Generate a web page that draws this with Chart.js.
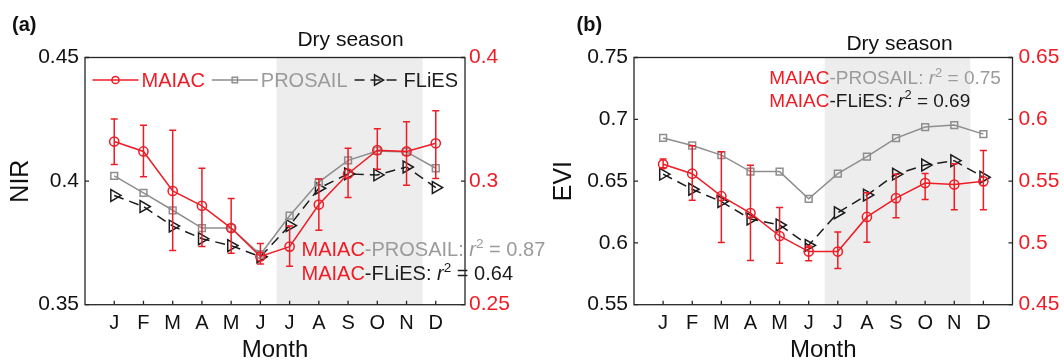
<!DOCTYPE html>
<html>
<head>
<meta charset="utf-8">
<script src="https://cdn.jsdelivr.net/npm/chart.js@4.4.1/dist/chart.umd.min.js"></script>
<style>
  html, body { margin: 0; padding: 0; background: #fff; }
  #wrap { position: relative; width: 1064px; height: 364px; overflow: hidden; }
  canvas { position: absolute; top: 0; }
  #chartA { left: 0; }
  #chartB { left: 530px; }
</style>
</head>
<body>
<div id="wrap">
  <canvas id="chartA" width="560" height="364"></canvas>
  <canvas id="chartB" width="534" height="364"></canvas>
</div>
<script>
// months on the x axis (plotted at 1..12, axis runs 0..13)
const months = ["J", "F", "M", "A", "M", "J", "J", "A", "S", "O", "N", "D"];
const drySeason = [6.55, 11.55]; // shaded band, in month units

// (a) NIR
const nirMaiac = [0.416, 0.412, 0.396, 0.390, 0.381, 0.3695, 0.3735, 0.3905, 0.403, 0.4125, 0.412, 0.4153];
const nirMaiacHigh = [0.4251, 0.4226, 0.4206, 0.4052, 0.393, 0.3748, 0.3818, 0.4008, 0.4133, 0.4212, 0.424, 0.4285];
const nirMaiacLow = [0.4067, 0.4018, 0.3719, 0.3735, 0.3708, 0.3665, 0.3656, 0.3801, 0.3934, 0.4048, 0.3983, 0.4011];
const nirProsail = [0.4021, 0.3952, 0.3882, 0.381, 0.381, 0.3703, 0.386, 0.3996, 0.4084, 0.4122, 0.4118, 0.4052];
const nirFlies = [0.3942, 0.3897, 0.3818, 0.3767, 0.3739, 0.3694, 0.382, 0.3971, 0.4029, 0.4025, 0.4057, 0.3974];
const nirTicks = [0.35, 0.4, 0.45];
const nirRightLabels = ["0.25", "0.3", "0.4"];
const nirR2 = ["0.87", "0.64"];

// (b) EVI
const eviMaiac = [0.6636, 0.656, 0.6378, 0.6241, 0.6056, 0.593, 0.593, 0.621, 0.6362, 0.6484, 0.6472, 0.6498];
const eviMaiacHigh = [0.6679, 0.6785, 0.6737, 0.6628, 0.6287, 0.5975, 0.6088, 0.6405, 0.6555, 0.6562, 0.664, 0.6747];
const eviMaiacLow = [0.6608, 0.6345, 0.6004, 0.5857, 0.5836, 0.5855, 0.5793, 0.6005, 0.6204, 0.6352, 0.6268, 0.6268];
const eviProsail = [0.6849, 0.6788, 0.671, 0.6577, 0.6577, 0.6357, 0.656, 0.6698, 0.6848, 0.6937, 0.6953, 0.688];
const eviFlies = [0.6556, 0.6434, 0.6334, 0.6193, 0.6145, 0.598, 0.6244, 0.6387, 0.6556, 0.663, 0.6665, 0.6531];
const eviTicks = [0.55, 0.6, 0.65, 0.7, 0.75];
const eviRightLabels = ["0.45", "0.5", "0.55", "0.6", "0.65"];
const eviR2 = ["0.75", "0.69"];

const FONT = "'Liberation Sans', Arial, Helvetica, sans-serif";
const RED = "#ee1c25";
const GRAY = "#8e8e8e";
const GRAYTEXT = "#9b9b9b";
const DARK = "#1c1c1c";

Chart.defaults.font.family = FONT;
Chart.defaults.color = "#111";

function toXY(vals) {
  return vals.map((v, i) => ({ x: i + 1, y: v }));
}

function seriesSets(maiac, prosail, flies) {
  return [
    {
      label: "MAIAC", data: toXY(maiac), borderColor: RED, borderWidth: 1.5,
      pointStyle: "circle", pointRadius: 4.6, pointBorderWidth: 1.5,
      pointBorderColor: RED, pointBackgroundColor: "rgba(0,0,0,0)", tension: 0
    },
    {
      label: "PROSAIL", data: toXY(prosail), borderColor: GRAY, borderWidth: 1.5,
      pointStyle: "rect", pointRadius: 4.8, pointBorderWidth: 1.5,
      pointBorderColor: GRAY, pointBackgroundColor: "rgba(0,0,0,0)", tension: 0
    },
    {
      label: "FLiES", data: toXY(flies), borderColor: DARK, borderWidth: 1.5, borderDash: [10, 6],
      pointStyle: "triangle", pointRotation: 90, pointRadius: 6.8, pointBorderWidth: 1.5,
      pointBorderColor: DARK, pointBackgroundColor: "rgba(0,0,0,0)", tension: 0
    }
  ];
}

// text made of pieces with their own colour / style
function drawRuns(ctx, runs, x, y, size) {
  ctx.textBaseline = "alphabetic";
  ctx.textAlign = "left";
  runs.forEach((r) => {
    const fs = r.sup ? size * 0.68 : size;
    ctx.font = (r.italic ? "italic " : "") + fs + "px " + FONT;
    ctx.fillStyle = r.color;
    ctx.fillText(r.text, x, r.sup ? y - size * 0.38 : y);
    x += ctx.measureText(r.text).width;
  });
}

function r2Runs(name, color, value) {
  return [
    { text: "MAIAC", color: RED },
    { text: "-" + name + ": ", color: color },
    { text: "r", color: color, italic: true },
    { text: "2", color: color, sup: true },
    { text: " = " + value, color: color }
  ];
}

function panelPlugin(cfg) {
  return {
    id: "panel" + cfg.tag,
    beforeDatasetsDraw(chart) {
      const { ctx, chartArea } = chart;
      const xs = chart.scales.x;
      ctx.save();
      ctx.fillStyle = "#ededed";
      const x0 = xs.getPixelForValue(drySeason[0]);
      const x1 = xs.getPixelForValue(drySeason[1]);
      ctx.fillRect(x0, chartArea.top, x1 - x0, chartArea.bottom - chartArea.top);
      ctx.restore();
    },
    afterDatasetsDraw(chart) {
      const { ctx } = chart;
      const xs = chart.scales.x;
      const ys = chart.scales.y;
      ctx.save();
      // error bars of MAIAC
      ctx.strokeStyle = RED;
      ctx.lineWidth = 1.5;
      cfg.high.forEach((h, i) => {
        const x = xs.getPixelForValue(i + 1);
        const yh = ys.getPixelForValue(h);
        const yl = ys.getPixelForValue(cfg.low[i]);
        ctx.beginPath();
        ctx.moveTo(x, yh); ctx.lineTo(x, yl);
        ctx.moveTo(x - 3.5, yh); ctx.lineTo(x + 3.5, yh);
        ctx.moveTo(x - 3.5, yl); ctx.lineTo(x + 3.5, yl);
        ctx.stroke();
      });

      // r2 notes
      drawRuns(ctx, r2Runs("PROSAIL", GRAYTEXT, cfg.r2[0]), cfg.noteX, cfg.noteY[0], cfg.noteSize);
      drawRuns(ctx, r2Runs("FLiES", DARK, cfg.r2[1]), cfg.noteX, cfg.noteY[1], cfg.noteSize);

      // legend inside the box (panel a only)
      if (cfg.legend) {
        let x = cfg.legend.x;
        const y = cfg.legend.y;
        const sizes = [3.6, 3.8, 6];
        chart.data.datasets.forEach((ds, k) => {
          ctx.strokeStyle = ds.borderColor;
          ctx.lineWidth = 1.5;
          ctx.setLineDash(ds.borderDash || []);
          ctx.beginPath();
          ctx.moveTo(x, y); ctx.lineTo(x + 46, y);
          ctx.stroke();
          ctx.setLineDash([]);
          ctx.fillStyle = "rgba(0,0,0,0)";
          Chart.helpers.drawPoint(ctx, {
            pointStyle: ds.pointStyle, rotation: ds.pointRotation || 0,
            radius: sizes[k], borderWidth: 1.5
          }, x + 23, y);
          ctx.font = "20px " + FONT;
          ctx.fillStyle = k === 1 ? GRAYTEXT : (k === 0 ? RED : DARK);
          ctx.textBaseline = "middle";
          ctx.textAlign = "left";
          const tx = x + 49;
          ctx.fillText(ds.label, tx, y + 1);
          x = tx + ctx.measureText(ds.label).width + 7;
        });
      }
      ctx.restore();
    },
    afterDraw(chart) {
      const { ctx, chartArea } = chart;
      const xs = chart.scales.x;
      const ys = chart.scales.y;
      ctx.save();
      // box and inward ticks
      ctx.strokeStyle = "#262626";
      ctx.lineWidth = 1.3;
      ctx.strokeRect(chartArea.left, chartArea.top, chartArea.right - chartArea.left, chartArea.bottom - chartArea.top);
      ctx.beginPath();
      ys.ticks.forEach((t) => {
        const y = ys.getPixelForValue(t.value);
        ctx.moveTo(chartArea.left, y); ctx.lineTo(chartArea.left + 4, y);
        ctx.moveTo(chartArea.right, y); ctx.lineTo(chartArea.right - 4, y);
      });
      xs.ticks.forEach((t) => {
        const x = xs.getPixelForValue(t.value);
        ctx.moveTo(x, chartArea.bottom); ctx.lineTo(x, chartArea.bottom - 4);
      });
      ctx.stroke();

      // panel letter and dry season label
      ctx.fillStyle = "#111";
      ctx.textAlign = "left";
      ctx.textBaseline = "alphabetic";
      ctx.font = "bold 20px " + FONT;
      ctx.fillText(cfg.letter, cfg.letterX, 31);
      ctx.font = "21px " + FONT;
      ctx.textAlign = "center";
      const mid = (xs.getPixelForValue(drySeason[0]) + xs.getPixelForValue(drySeason[1])) / 2;
      ctx.fillText("Dry season", mid + cfg.dryShift, cfg.dryY);
      ctx.restore();
    }
  };
}

function makePanel(canvasId, cfg) {
  const ctx = document.getElementById(canvasId).getContext("2d");
  return new Chart(ctx, {
    type: "line",
    data: { datasets: seriesSets(cfg.maiac, cfg.prosail, cfg.flies) },
    options: {
      responsive: false,
      animation: false,
      devicePixelRatio: 1,
      layout: { padding: { top: 57.5, left: 0, right: 0, bottom: 0 } },
      plugins: { legend: { display: false }, tooltip: { enabled: false } },
      scales: {
        x: {
          type: "linear", min: 0, max: 13,
          afterBuildTicks: (s) => { s.ticks = months.map((m, i) => ({ value: i + 1 })); },
          afterFit: (s) => { s.height = 59.3; },
          grid: { display: false, drawTicks: false },
          border: { display: false },
          ticks: {
            autoSkip: false, maxRotation: 0, padding: 7, color: "#111",
            font: { size: 20 },
            callback: (v, i) => months[i]
          },
          title: {
            display: true, text: "Month", color: "#111",
            font: { size: 24, lineHeight: 1 }, padding: { top: 0, bottom: 1.5 }
          }
        },
        y: {
          type: "linear", position: "left", min: cfg.ticks[0], max: cfg.ticks[cfg.ticks.length - 1],
          afterBuildTicks: (s) => { s.ticks = cfg.ticks.map((v) => ({ value: v })); },
          afterFit: (s) => { s.width = cfg.leftW; },
          grid: { display: false, drawTicks: false },
          border: { display: false },
          ticks: { padding: 6, color: "#111", font: { size: 21 }, callback: (v) => String(v) },
          title: {
            display: true, text: cfg.yTitle, color: "#111",
            font: { size: 25, lineHeight: 1 }, padding: { top: cfg.yTitlePad, bottom: 0 }
          }
        },
        y1: {
          type: "linear", position: "right", min: cfg.ticks[0], max: cfg.ticks[cfg.ticks.length - 1],
          afterBuildTicks: (s) => { s.ticks = cfg.ticks.map((v) => ({ value: v })); },
          afterFit: (s) => { s.width = cfg.rightW; },
          grid: { display: false, drawTicks: false },
          border: { display: false },
          ticks: { padding: cfg.rightPad, color: RED, font: { size: 21 }, callback: (v, i) => cfg.rightLabels[i] }
        }
      }
    },
    plugins: [panelPlugin(cfg)]
  });
}

makePanel("chartA", {
  tag: "A", letter: "(a)", letterX: 12, dryShift: 1, dryY: 46,
  maiac: nirMaiac, high: nirMaiacHigh, low: nirMaiacLow, prosail: nirProsail, flies: nirFlies,
  ticks: nirTicks, rightLabels: nirRightLabels, yTitle: "NIR", yTitlePad: 9,
  leftW: 85, rightW: 95, rightPad: 4,
  r2: nirR2, noteX: 301.5, noteY: [256, 279.5], noteSize: 20,
  legend: { x: 92.5, y: 80 }
});

makePanel("chartB", {
  tag: "B", letter: "(b)", letterX: 46.5, dryShift: 2, dryY: 49.5,
  maiac: eviMaiac, high: eviMaiacHigh, low: eviMaiacLow, prosail: eviProsail, flies: eviFlies,
  ticks: eviTicks, rightLabels: eviRightLabels, yTitle: "EVI", yTitlePad: 21.5,
  leftW: 104, rightW: 51.5, rightPad: 6,
  r2: eviR2, noteX: 239.3, noteY: [84, 106.7], noteSize: 19,
  legend: null
});
</script>
</body>
</html>
